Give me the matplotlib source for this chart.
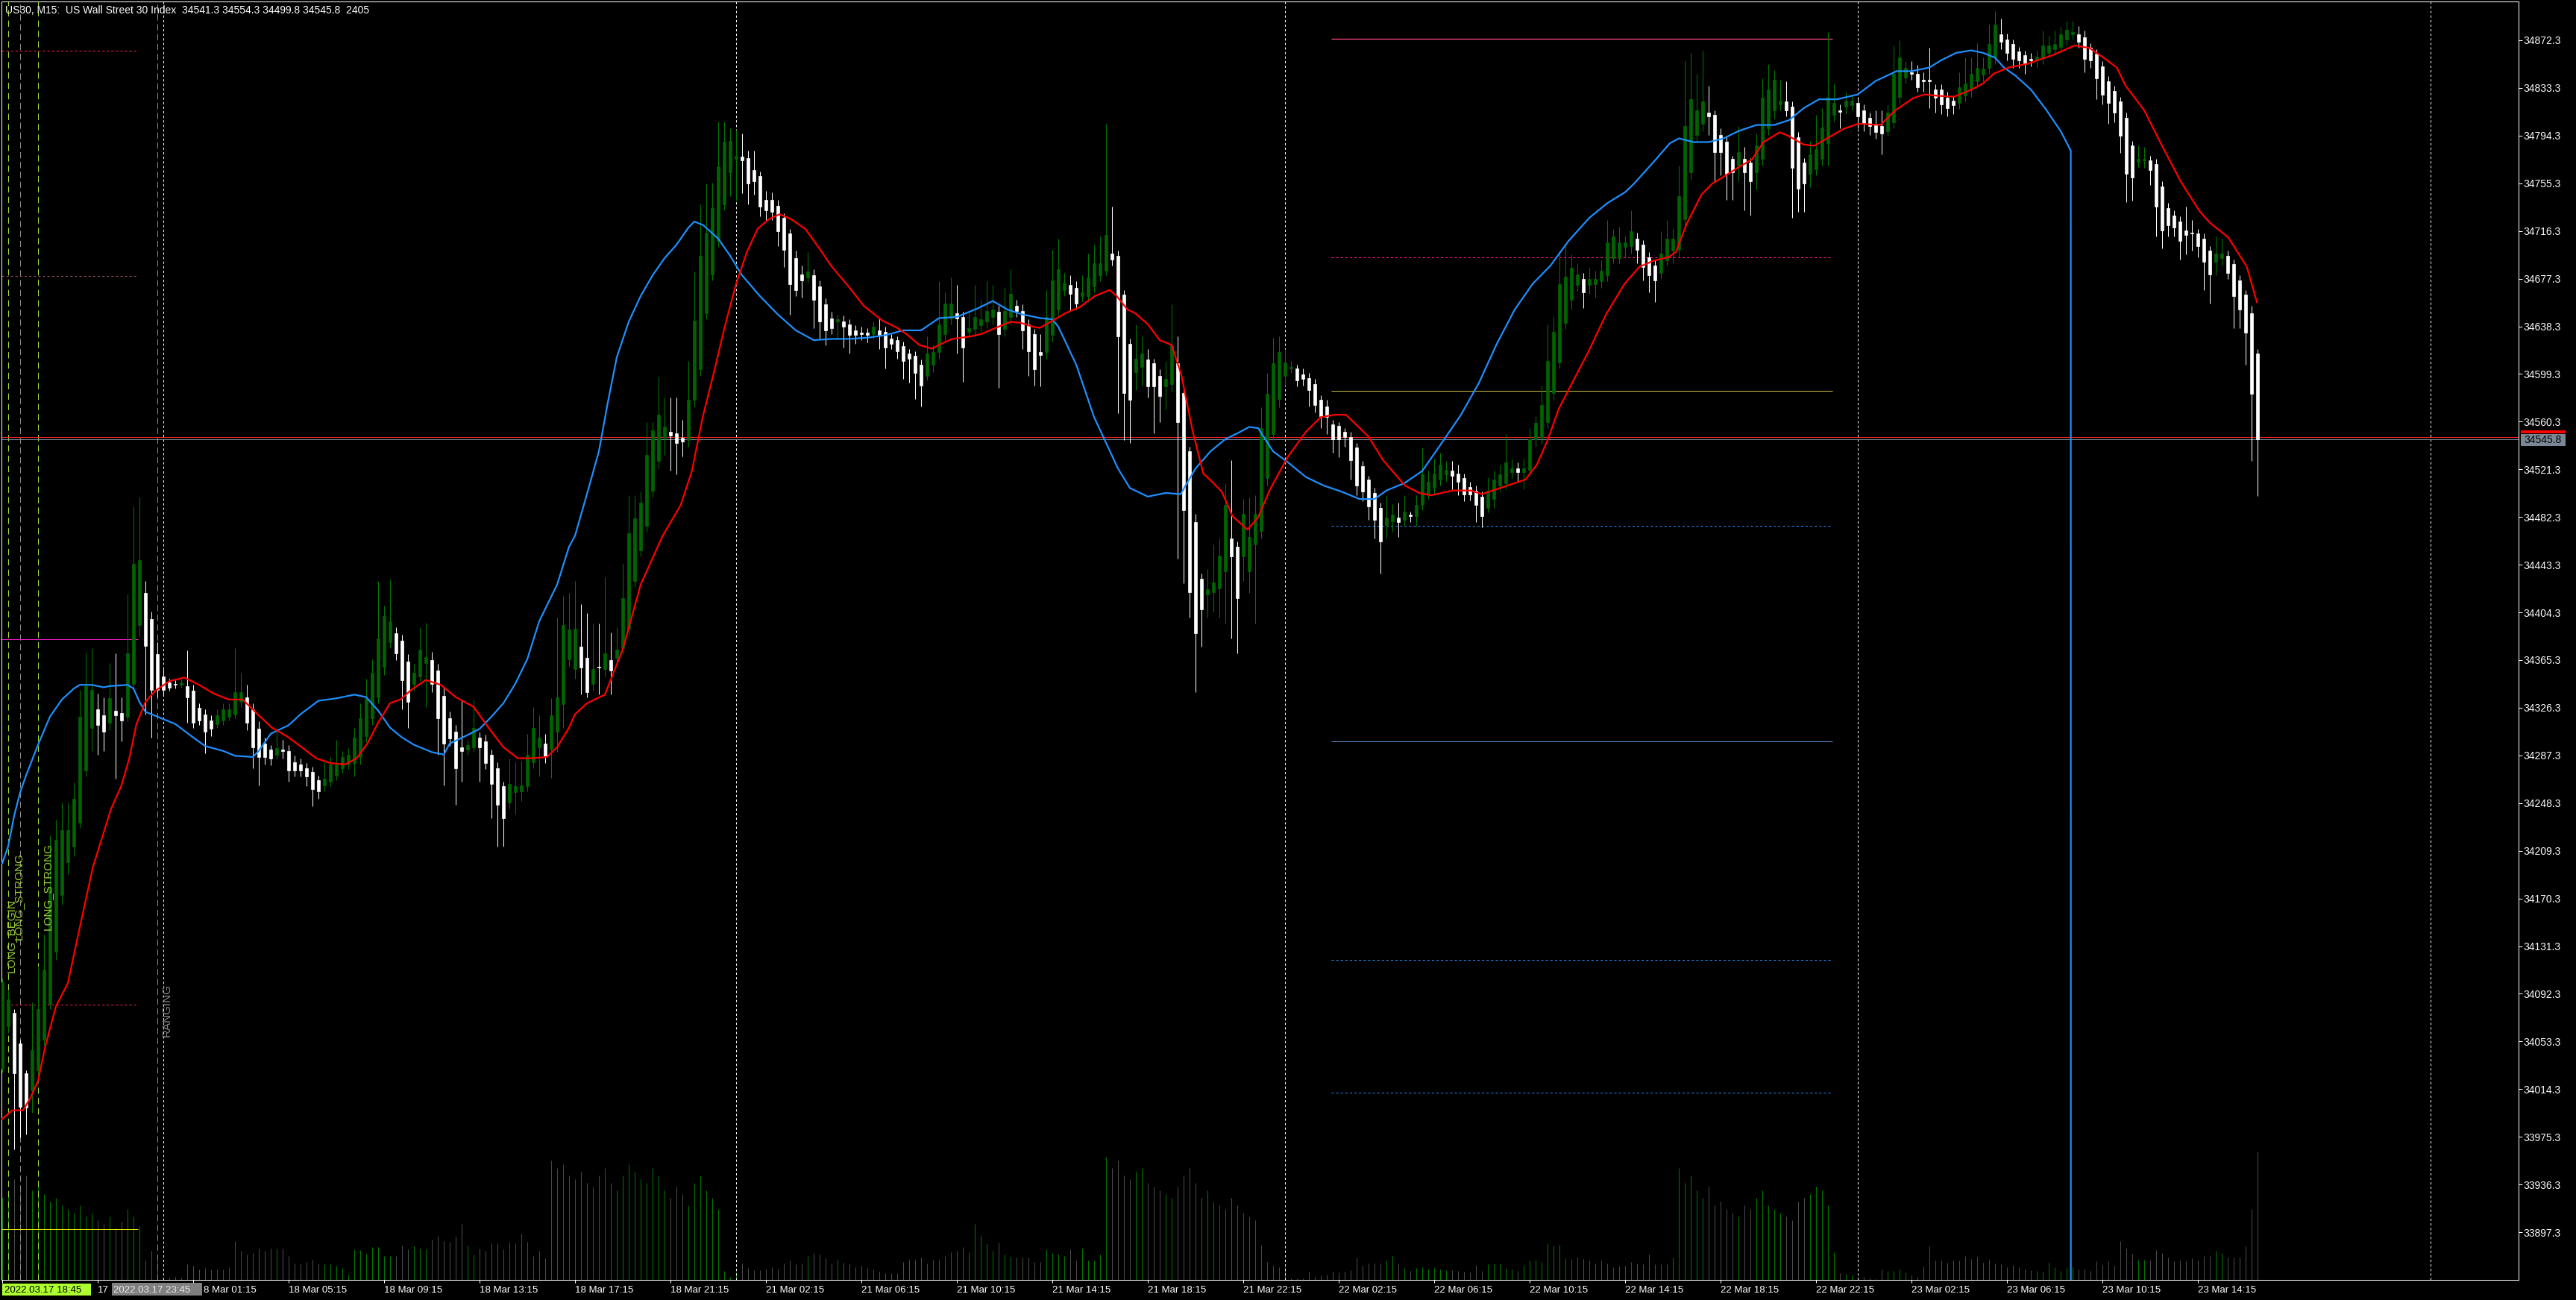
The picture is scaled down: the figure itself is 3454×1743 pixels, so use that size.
import numpy as np
import matplotlib
matplotlib.use('Agg')
import matplotlib.pyplot as plt
from matplotlib.patches import Rectangle

plt.rcParams['font.family'] = ['Liberation Sans', 'DejaVu Sans']
plt.rcParams['lines.scale_dashes'] = False

# US30 M15 candles, bar 0 = 2022.03.17 17:15
opens = [
    34031, 34066, 34077, 34052, 34027, 34013, 34030, 34055, 34084, 34127,
    34173, 34200, 34213, 34232, 34275, 34310, 34325, 34320, 34314, 34324,
    34322, 34319, 34346, 34394, 34420, 34399, 34370, 34352, 34347, 34346,
    34345, 34344, 34340, 34326, 34321, 34316, 34313, 34316, 34319, 34321,
    34331, 34335, 34325, 34309, 34297, 34292, 34288, 34292, 34291, 34282,
    34280, 34277, 34274, 34267, 34263, 34266, 34271, 34277, 34280, 34281,
    34286, 34303, 34318, 34335, 34360, 34380, 34387, 34381, 34364, 34346,
    34352, 34363, 34365, 34357, 34336, 34318, 34307, 34294, 34292, 34294,
    34302, 34299, 34288, 34277, 34262, 34249, 34257, 34258, 34262, 34282,
    34294, 34297, 34292, 34307, 34329, 34366, 34358, 34376, 34367, 34346,
    34360, 34358, 34365, 34367, 34375, 34391, 34430, 34455, 34475, 34504,
    34528, 34547, 34552, 34551, 34547, 34545, 34578, 34603, 34649, 34681,
    34708, 34738, 34764, 34775, 34777, 34776, 34766, 34761, 34742, 34742,
    34737, 34727, 34714, 34694, 34681, 34678, 34680, 34671, 34656, 34645,
    34642, 34642, 34640, 34635, 34633, 34633, 34632, 34635, 34634, 34628,
    34627, 34622, 34616, 34614, 34607, 34598, 34607, 34617, 34632, 34645,
    34649, 34646, 34634, 34636, 34639, 34642, 34646, 34650, 34636, 34646,
    34655, 34651, 34640, 34632, 34617, 34617, 34631, 34652, 34668, 34672,
    34670, 34663, 34663, 34671, 34680, 34684, 34698, 34696, 34664, 34624,
    34601, 34605, 34611, 34608, 34598, 34589, 34591, 34608, 34584, 34536,
    34478, 34432, 34419, 34421, 34424, 34438, 34465, 34458, 34450, 34438,
    34460, 34471, 34514, 34550, 34579, 34598, 34604, 34604, 34599, 34596,
    34591, 34578, 34573, 34558, 34557, 34552, 34548, 34539, 34524, 34513,
    34502, 34490, 34476, 34479, 34482, 34480, 34484, 34483, 34492, 34501,
    34506, 34513, 34517, 34520, 34518, 34514, 34507, 34504, 34499, 34490,
    34497, 34508, 34510, 34519, 34522, 34519, 34521, 34546, 34547, 34560,
    34584, 34609, 34641, 34660, 34672, 34677, 34672, 34673, 34675, 34680,
    34694, 34694, 34703, 34704, 34710, 34705, 34695, 34688, 34682, 34692,
    34700, 34701, 34726, 34764, 34795, 34804, 34813, 34811, 34795, 34789,
    34775, 34770, 34775, 34772, 34764, 34775, 34800, 34815, 34820, 34822,
    34818, 34793, 34772, 34763, 34767, 34775, 34788, 34811, 34815, 34818,
    34819, 34821, 34815, 34809, 34804, 34802, 34798, 34805, 34826, 34842,
    34846, 34845, 34840, 34840, 34832, 34832, 34825, 34823, 34821, 34827,
    34832, 34839, 34844, 34850, 34858, 34877, 34873, 34869, 34863, 34860,
    34857, 34856, 34858, 34862, 34865, 34867, 34873, 34877, 34877, 34875,
    34866, 34861, 34851, 34839, 34831, 34822, 34809, 34786, 34773, 34774,
    34774, 34771, 34753, 34735, 34729, 34724, 34717, 34715, 34714, 34710,
    34700, 34691, 34694, 34696, 34689, 34676, 34664, 34649, 34616,
]
highs = [
    34105, 34095, 34080, 34055, 34030, 34085, 34115, 34141, 34222, 34235,
    34249, 34249, 34265, 34341, 34371, 34375, 34338, 34335, 34363, 34371,
    34335, 34419, 34491, 34498, 34430, 34405, 34380, 34358, 34350, 34349,
    34350, 34373, 34345, 34330, 34325, 34320, 34325, 34330, 34330, 34375,
    34355, 34345, 34330, 34315, 34302, 34296, 34310, 34300, 34296, 34287,
    34285, 34281, 34278, 34271, 34282, 34286, 34300, 34291, 34293, 34310,
    34330, 34350, 34366, 34430, 34410, 34431, 34392, 34386, 34370, 34362,
    34392, 34396, 34372, 34362, 34342, 34323, 34312, 34333, 34300, 34333,
    34306, 34304, 34292, 34282, 34266, 34285, 34282, 34283, 34305, 34327,
    34320, 34305, 34334, 34400, 34418, 34420, 34430, 34411, 34404, 34395,
    34395, 34433, 34388, 34392, 34444, 34500, 34500, 34503, 34560, 34560,
    34597, 34580, 34580, 34580, 34562, 34610, 34683, 34738, 34755, 34756,
    34806, 34806, 34800, 34799, 34796, 34782, 34782, 34765, 34749, 34748,
    34742, 34731, 34718, 34700, 34688, 34699, 34685, 34676, 34661, 34650,
    34648, 34647, 34644, 34639, 34638, 34637, 34642, 34645, 34638, 34632,
    34630, 34626, 34620, 34618, 34611, 34630, 34623, 34675, 34666, 34678,
    34672, 34650, 34650, 34672, 34660, 34675, 34672, 34655, 34670, 34685,
    34660, 34656, 34644, 34636, 34632, 34668, 34701, 34710, 34682, 34680,
    34675, 34680, 34698, 34705, 34712, 34804, 34736, 34700, 34668, 34628,
    34640, 34630, 34620, 34612, 34603, 34610, 34656, 34630, 34590, 34540,
    34485, 34436, 34440, 34460, 34465, 34510, 34529, 34462, 34497, 34498,
    34500, 34572, 34600, 34629, 34630, 34620, 34610, 34607, 34604, 34600,
    34595, 34582, 34578, 34562, 34560, 34555, 34552, 34543, 34528, 34516,
    34506, 34494, 34500, 34493, 34494, 34500, 34487, 34500, 34539, 34520,
    34530, 34535, 34528, 34528, 34525, 34518, 34511, 34508, 34503, 34515,
    34520, 34525, 34550, 34530, 34527, 34530, 34555, 34565, 34590, 34640,
    34646, 34700, 34706, 34697, 34690, 34682, 34686, 34684, 34692, 34725,
    34718, 34720, 34712, 34733, 34715, 34709, 34699, 34692, 34716, 34725,
    34718, 34770, 34856, 34862, 34845, 34864, 34835, 34815, 34800, 34793,
    34778, 34802, 34785, 34776, 34796, 34841, 34853, 34848, 34840, 34839,
    34822, 34797, 34776, 34790, 34811, 34817, 34879, 34837, 34820, 34830,
    34828, 34826, 34820, 34813, 34815, 34815, 34820, 34868, 34872, 34855,
    34855, 34852, 34846, 34866, 34836, 34836, 34830, 34827, 34846, 34858,
    34858, 34870, 34858, 34885, 34896, 34890, 34878, 34873, 34867, 34864,
    34862, 34864, 34880, 34876, 34880, 34883, 34888, 34888, 34884, 34880,
    34870, 34865, 34855, 34843, 34835, 34826, 34813, 34790, 34786, 34785,
    34778, 34775, 34757, 34739, 34733, 34728, 34736, 34725, 34718, 34714,
    34704, 34712, 34710, 34700, 34693, 34680, 34668, 34655, 34620,
]
lows = [
    34028, 34060, 33965, 33975, 33977, 33995, 34020, 34050, 34080, 34120,
    34165, 34190, 34205, 34228, 34270, 34291, 34288, 34291, 34308, 34268,
    34299, 34315, 34340, 34385, 34321, 34302, 34335, 34336, 34340, 34342,
    34343, 34314, 34310, 34312, 34289, 34303, 34310, 34312, 34316, 34318,
    34327, 34308, 34277, 34263, 34280, 34279, 34284, 34285, 34266, 34270,
    34270, 34262, 34246, 34252, 34258, 34262, 34267, 34273, 34276, 34270,
    34280, 34298, 34312, 34330, 34353, 34375, 34365, 34325, 34310, 34340,
    34348, 34327, 34339, 34288, 34263, 34295, 34247, 34266, 34288, 34290,
    34266, 34276, 34236, 34213, 34213, 34244, 34239, 34250, 34258, 34277,
    34270, 34281, 34269, 34290, 34310, 34360, 34350, 34337, 34335, 34340,
    34337, 34352, 34337, 34362, 34370, 34385, 34425, 34450, 34470, 34498,
    34522, 34533, 34520, 34517, 34532, 34540, 34573, 34598, 34644, 34676,
    34703, 34733, 34745, 34741, 34747, 34738, 34746, 34728, 34725, 34725,
    34704, 34687, 34648, 34663, 34662, 34674, 34637, 34628, 34623, 34632,
    34628, 34621, 34616, 34624, 34627, 34625, 34628, 34620, 34604, 34620,
    34612, 34595, 34592, 34579, 34573, 34594, 34601, 34612, 34626, 34640,
    34616, 34593, 34630, 34630, 34634, 34637, 34640, 34588, 34630, 34640,
    34646, 34620, 34598, 34590, 34589, 34612, 34626, 34646, 34663, 34651,
    34652, 34659, 34658, 34666, 34675, 34680, 34688, 34567, 34545, 34543,
    34586, 34590, 34580, 34551, 34560, 34570, 34585, 34448, 34428, 34400,
    34339, 34376, 34400, 34405, 34400, 34395, 34383, 34371, 34430, 34420,
    34395, 34465, 34508, 34545, 34572, 34590, 34600, 34589, 34590, 34573,
    34568, 34555, 34550, 34535, 34531, 34540, 34513, 34500, 34495, 34480,
    34465, 34436, 34465, 34470, 34466, 34475, 34478, 34475, 34488, 34497,
    34500, 34508, 34512, 34505, 34500, 34495, 34496, 34478, 34474, 34486,
    34490, 34503, 34505, 34514, 34512, 34505, 34517, 34540, 34542, 34555,
    34578, 34604, 34636, 34652, 34667, 34653, 34665, 34662, 34670, 34675,
    34690, 34690, 34695, 34698, 34690, 34676, 34666, 34658, 34677, 34688,
    34690, 34695, 34720, 34758, 34790, 34798, 34795, 34756, 34762, 34742,
    34742, 34757, 34733, 34729, 34750, 34770, 34795, 34808, 34815, 34810,
    34727, 34732, 34732, 34752, 34762, 34770, 34770, 34806, 34800, 34812,
    34815, 34800, 34798, 34795, 34792, 34779, 34794, 34800, 34820, 34837,
    34840, 34830, 34830, 34817, 34813, 34812, 34810, 34812, 34816, 34822,
    34826, 34835, 34839, 34845, 34853, 34865, 34856, 34850, 34850, 34845,
    34851, 34850, 34853, 34858, 34860, 34862, 34868, 34873, 34866, 34846,
    34850, 34824, 34820, 34804, 34805, 34780, 34740, 34741, 34768, 34768,
    34754, 34712, 34702, 34712, 34712, 34693, 34697, 34700, 34695, 34668,
    34657, 34680, 34688, 34677, 34637, 34637, 34607, 34528, 34499.8,
]
closes = [
    34102, 34088, 34027, 34000, 33999, 34046, 34080, 34112, 34180, 34218,
    34226, 34226, 34252, 34319, 34344, 34341, 34312, 34307, 34334, 34320,
    34316, 34371, 34444, 34447, 34377, 34341, 34341, 34341, 34343, 34345,
    34347, 34335, 34314, 34316, 34307, 34309, 34320, 34325, 34325, 34339,
    34339, 34314, 34294, 34286, 34286, 34285, 34293, 34291, 34275, 34275,
    34275, 34270, 34260, 34258, 34268, 34280, 34280, 34286, 34288, 34302,
    34318, 34334, 34355, 34383, 34401, 34397, 34371, 34349, 34331, 34355,
    34374, 34368, 34346, 34318, 34297, 34301, 34277, 34291, 34296, 34310,
    34294, 34281, 34264, 34247, 34236, 34264, 34262, 34263, 34288, 34310,
    34302, 34286, 34320, 34335, 34394, 34390, 34391, 34359, 34339, 34358,
    34359, 34371, 34357, 34374, 34416, 34469, 34481, 34494, 34533, 34553,
    34566, 34556, 34549, 34543, 34544, 34578, 34643, 34696, 34715, 34735,
    34769, 34789, 34790, 34778, 34774, 34755, 34757, 34736, 34733, 34732,
    34716, 34701, 34673, 34668, 34676, 34683, 34660, 34642, 34635, 34637,
    34644, 34638, 34631, 34631, 34632, 34631, 34638, 34631, 34621, 34624,
    34618, 34610, 34612, 34600, 34590, 34616, 34617, 34640, 34657, 34657,
    34645, 34621, 34637, 34646, 34644, 34651, 34652, 34632, 34651, 34665,
    34651, 34635, 34618, 34603, 34615, 34646, 34676, 34685, 34674, 34665,
    34657, 34666, 34678, 34690, 34690, 34713, 34693, 34630, 34584, 34578,
    34612, 34616, 34589, 34589, 34581, 34595, 34623, 34560, 34488, 34421,
    34387, 34407, 34423, 34429, 34451, 34492, 34450, 34416, 34485, 34466,
    34485, 34555, 34583, 34608, 34617, 34609, 34605, 34594, 34595, 34586,
    34574, 34565, 34564, 34546, 34546, 34548, 34529, 34508, 34503, 34491,
    34480, 34462, 34482, 34484, 34478, 34487, 34483, 34492, 34517, 34511,
    34518, 34525, 34521, 34516, 34511, 34501, 34501, 34492, 34483, 34504,
    34513, 34517, 34527, 34522, 34519, 34522, 34546, 34559, 34574, 34610,
    34634, 34673, 34679, 34686, 34681, 34666, 34677, 34677, 34684, 34707,
    34712, 34707, 34707, 34716, 34701, 34687, 34680, 34676, 34698, 34710,
    34710, 34745, 34802, 34824, 34815, 34822, 34810, 34781, 34781, 34763,
    34764, 34781, 34764, 34757, 34786, 34825, 34832, 34840, 34823, 34815,
    34768, 34751, 34755, 34779, 34783, 34801, 34826, 34821, 34814, 34823,
    34823, 34810, 34804, 34802, 34797, 34796, 34813, 34845, 34858, 34850,
    34845, 34834, 34839, 34839, 34825, 34820, 34817, 34819, 34834, 34837,
    34845, 34850, 34849, 34869, 34885, 34871, 34862, 34857, 34856, 34853,
    34856, 34859, 34868, 34868, 34869, 34877, 34881, 34879, 34871, 34857,
    34856, 34841, 34828, 34821, 34813, 34794, 34763, 34760, 34775, 34775,
    34766, 34736, 34717, 34721, 34719, 34708, 34713, 34714, 34704, 34691,
    34681, 34698, 34698, 34682, 34663, 34652, 34633, 34583, 34545.8,
]
# tick volumes
volumes = [
    1540, 1680, 1890, 1750, 1960, 1680, 1820, 1610, 1470, 1540,
    1400, 1330, 1260, 1400, 1190, 1260, 1120, 1050, 1190, 980,
    1092, 1330, 1190, 1008, 364, 546, 420, 42, 42, 56,
    42, 294, 266, 196, 224, 196, 196, 196, 238, 728,
    546, 476, 504, 588, 546, 588, 588, 588, 448, 308,
    308, 336, 378, 308, 294, 294, 266, 224, 98, 574,
    560, 490, 616, 616, 448, 448, 448, 644, 574, 644,
    588, 574, 756, 826, 728, 714, 812, 1050, 644, 476,
    588, 546, 686, 686, 574, 714, 686, 868, 714, 448,
    546, 406, 2240, 2100, 2170, 1960, 1890, 2030, 1820, 1750,
    1960, 2100, 1820, 1680, 1960, 2170, 2030, 1890, 1820, 2100,
    1960, 1680, 1540, 1750, 1610, 1400, 1820, 1960, 1680, 1540,
    1330, 168, 56, 140, 308, 224, 182, 182, 196, 238,
    196, 308, 364, 294, 308, 448, 504, 476, 406, 308,
    378, 322, 308, 238, 266, 224, 196, 154, 126, 126,
    126, 336, 378, 378, 420, 308, 378, 378, 448, 518,
    546, 616, 518, 1050, 826, 686, 546, 700, 476, 434,
    420, 420, 420, 336, 336, 574, 504, 490, 448, 574,
    364, 588, 364, 364, 476, 2310, 2100, 2240, 1960, 1890,
    2030, 2100, 1820, 1750, 1680, 1610, 1540, 1750, 1960, 2100,
    1820, 1540, 1680, 1470, 1400, 1330, 1540, 1400, 1260, 1190,
    1120, 658, 336, 266, 238, 238, 28, 28, 28, 154,
    56, 84, 98, 154, 140, 154, 182, 420, 266, 308,
    308, 308, 364, 448, 308, 224, 168, 224, 238, 196,
    224, 196, 182, 182, 168, 154, 140, 280, 168, 294,
    308, 308, 224, 196, 168, 266, 364, 378, 336, 686,
    644, 658, 406, 392, 420, 392, 364, 308, 364, 308,
    238, 252, 266, 336, 308, 294, 476, 294, 294, 294,
    420, 2100, 1820, 1960, 1680, 1540, 1750, 1400, 1470, 1330,
    1260, 1190, 1400, 1330, 1540, 1680, 1400, 1330, 1260, 1190,
    1120, 1470, 1540, 1610, 1750, 1680, 1400, 518, 126, 112,
    84, 56, 56, 28, 14, 196, 168, 168, 196, 140,
    84, 56, 252, 630, 364, 364, 322, 364, 364, 448,
    392, 434, 322, 378, 308, 294, 238, 280, 238, 196,
    182, 168, 154, 322, 238, 168, 238, 238, 196, 196,
    168, 350, 280, 350, 266, 728, 588, 490, 378, 378,
    364, 560, 504, 420, 350, 364, 350, 406, 364, 448,
    448, 546, 504, 420, 420, 420, 630, 1330, 2405,
]

# blue and red indicator lines (bar index, price)
blue_bars = [0, 1, 2, 3, 4, 6, 8, 10, 12, 13, 15, 17, 18, 21, 22, 23, 24, 26, 29, 32,
             34, 37, 39, 42, 43, 45, 48, 50, 53, 56, 59, 61, 63, 65, 67, 69, 72, 74, 75, 78,
             80, 82, 84, 86, 88, 90, 93, 95, 96, 98, 100, 101.5, 103, 105, 107, 109, 111, 113, 115, 116,
             117.5, 120, 122, 124, 127, 130, 133, 136, 139, 142, 145, 148, 151, 154, 157, 160, 163.5, 166, 168.5, 171,
             174, 176, 177, 180, 183, 185, 187, 189, 192, 195, 197.5, 200, 202.5, 205, 207.5, 209, 210.5, 213, 215.5, 218.5,
             221.5, 224.5, 227.5, 230, 232, 235, 238, 241, 244.5, 247.5, 250.5, 253.5, 256.5, 259.5, 262.5, 266, 269, 272, 273.5, 277,
             279.5, 281, 283.5, 286, 288.5, 291, 294, 297, 299.5, 302, 304.5, 307.5, 311, 314, 317.5, 320, 323, 325, 327.5, 330,
             332, 334, 335.5, 337.5, 340, 342.5, 345, 346.7, 347]
blue_vals = [34199, 34213, 34238, 34257, 34271, 34296, 34319, 34333, 34342, 34345, 34345, 34343, 34344, 34345, 34342, 34331, 34323, 34319, 34313, 34302,
             34295, 34291, 34287, 34286, 34291, 34305, 34312, 34321, 34332, 34334, 34337, 34335, 34324, 34310, 34302, 34296, 34290, 34288, 34297, 34304,
             34309, 34319, 34330, 34346, 34366, 34397, 34427, 34458, 34467, 34501, 34536, 34576, 34613, 34642, 34663, 34680, 34694, 34705, 34719, 34724,
             34721, 34710, 34696, 34680, 34663, 34648, 34635, 34627, 34628, 34628, 34629, 34631, 34635, 34635, 34645, 34646, 34653, 34659, 34652, 34648,
             34645, 34644, 34638, 34607, 34564, 34543, 34522, 34506, 34499, 34502, 34501, 34522, 34536, 34546, 34552, 34556, 34555, 34536, 34527, 34515,
             34508, 34503, 34497, 34497, 34504, 34510, 34520, 34541, 34566, 34592, 34624, 34652, 34673, 34688, 34708, 34727, 34739, 34748, 34755, 34774,
             34788, 34792, 34789, 34789, 34792, 34798, 34803, 34803, 34807, 34817, 34824, 34824, 34828, 34839, 34847, 34847, 34850, 34856, 34862, 34864,
             34862, 34858, 34850, 34843, 34832, 34816, 34798, 34782, 0]
red_bars = [0, 1.7, 3.5, 4.7, 6, 7.2, 9, 11, 12.7, 15.2, 18.2, 20, 21.3, 22.5, 24, 25.6, 28, 30.5, 33, 35.4,
            38, 40.3, 42.8, 45.2, 47.7, 50.2, 52.6, 55, 57.5, 59.4, 61.2, 63, 65, 66.7, 68.6, 71, 73.5, 76, 79, 81.5,
            84, 86.4, 88.8, 91.3, 93, 95, 96, 98, 101, 104, 107, 110.7, 113.7, 115.6, 117.4, 119.3, 121.1, 123, 124.8, 126.6,
            128.5, 130.3, 132.2, 134.6, 137.1, 138.9, 142, 144.4, 147.5, 150, 151.8, 153.7, 155.8, 157.4, 159.2, 162.3, 164.1, 166.5, 169, 170.8,
            172.7, 173.9, 175.7, 178.2, 180.6, 183.1, 185.6, 186.8, 188.6, 189.9, 192, 194, 196, 197.6, 199.5, 201.3, 202.8, 204.4, 206.2, 208.7,
            210.5, 212.4, 215.4, 218.5, 221, 223.4, 225.2, 229, 231.4, 235.1, 237.5, 239.4, 243.1, 246.1, 248, 249.8, 252.9, 255.3, 257.2, 259,
            260.9, 262.7, 265.8, 268.8, 271.9, 274.4, 276.8, 279.3, 280.5, 282.3, 284.8, 286.6, 288.3, 290.9, 293.3, 295.2, 297.9, 299.4, 301.9, 303.7,
            306.2, 308.7, 311.1, 314.8, 317.3, 320.3, 322.2, 324, 327.1, 330.1, 332, 333.8, 336.3, 339.4, 341.2, 343.6, 345.5, 347.3, 349.8, 352.2,
            354.4, 355.9, 359, 362.1, 365.1, 368.2, 370, 373.1, 376.2, 377.9]
red_vals = [33990, 33997, 33997, 34007, 34021, 34049, 34082, 34101, 34140, 34196, 34243, 34263, 34285, 34313, 34331, 34340, 34348, 34351, 34345, 34338,
            34333, 34333, 34321, 34310, 34303, 34294, 34285, 34281, 34280, 34285, 34297, 34314, 34330, 34333, 34341, 34349, 34345, 34335, 34327, 34310,
            34294, 34285, 34285, 34286, 34294, 34310, 34321, 34330, 34337, 34374, 34427, 34467, 34492, 34520, 34564, 34601, 34638, 34673, 34699, 34718,
            34726, 34730, 34726, 34718, 34701, 34688, 34670, 34655, 34643, 34637, 34631, 34623, 34620, 34624, 34628, 34630, 34632, 34637, 34642, 34641,
            34638, 34637, 34642, 34649, 34654, 34663, 34668, 34663, 34652, 34649, 34640, 34627, 34623, 34599, 34553, 34518, 34511, 34503, 34483, 34472,
            34482, 34504, 34531, 34552, 34564, 34566, 34566, 34548, 34529, 34508, 34502, 34500, 34504, 34504, 34501, 34504, 34509, 34513, 34525, 34545,
            34571, 34588, 34617, 34648, 34673, 34687, 34692, 34695, 34699, 34722, 34746, 34755, 34760, 34768, 34775, 34789, 34797, 34794, 34787, 34786,
            34793, 34800, 34804, 34803, 34815, 34825, 34828, 34827, 34826, 34832, 34837, 34845, 34850, 34853, 34856, 34860, 34864, 34868, 34866, 34858,
            34850, 34835, 34815, 34785, 34757, 34733, 34723, 34711, 34687, 34658]

# horizontal levels
left_levels = [34863.8, 34679.5, 34382.4, 34083.4, 33899.8]
right_levels = [34873.5, 34695.0, 34585.5, 34475.4, 34298.8, 34120.0, 34011.4]
bid, ask = 34545.8, 34547.8

price_ticks = [34872.3, 34833.3, 34794.3, 34755.3, 34716.3, 34677.3, 34638.3, 34599.3, 34560.3,
               34521.3, 34482.3, 34443.3, 34404.3, 34365.3, 34326.3, 34287.3, 34248.3, 34209.3,
               34170.3, 34131.3, 34092.3, 34053.3, 34014.3, 33975.3, 33936.3, 33897.3]
time_tick_bars = [0, 16, 32, 48, 64, 80, 96, 112, 128, 144, 160, 176, 192, 208, 224, 240,
                  256, 272, 288, 304, 320, 336, 352, 368]
# first labels are mostly hidden by the marker boxes, only their visible part is kept
time_labels = ['', '17', '', '18 Mar 05:15', '18 Mar 09:15',
               '18 Mar 13:15', '18 Mar 17:15', '18 Mar 21:15', '21 Mar 02:15', '21 Mar 06:15',
               '21 Mar 10:15', '21 Mar 14:15', '21 Mar 18:15', '21 Mar 22:15', '22 Mar 02:15',
               '22 Mar 06:15', '22 Mar 10:15', '22 Mar 14:15', '22 Mar 18:15', '22 Mar 22:15',
               '23 Mar 02:15', '23 Mar 06:15', '23 Mar 10:15', '23 Mar 14:15']
day_breaks = [27, 123, 215, 311, 407]

n = len(opens)
assert len(highs) == n and len(lows) == n and len(closes) == n and len(volumes) == n
assert len(blue_bars) == len(blue_vals) and len(red_bars) == len(red_vals)

# ---- figure in pixel terms ----
W, H = 3455, 1743
PX = 0.72  # points per pixel at dpi 100
fig = plt.figure(figsize=(W / 100, H / 100), dpi=100, facecolor='black')
L, R, T, B = 2, 3377, 2, 1716


def fx(px):
    return px / W


def fy(py):
    return 1 - py / H


rect = [fx(L), fy(B), (R - L) / W, (B - T) / H]
axv = fig.add_axes(rect)
ax = fig.add_axes(rect)
ax.set_zorder(axv.get_zorder() + 1)
ax.patch.set_visible(False)
axv.set_facecolor('black')

xlim = (-0.125, 421.75)
ax.set_xlim(*xlim)
axv.set_xlim(*xlim)
ax.set_ylim(33858.3, 34904.0)
axv.set_ylim(0, (B - T) * 14)
axv.axis('off')

x = np.arange(n)
o = np.array(opens, float)
h = np.array(highs, float)
lo = np.array(lows, float)
c = np.array(closes, float)
v = np.array(volumes, float)
bull = c >= o

# volumes coloured by candle direction
axv.vlines(x[bull], 0, v[bull], colors='#007800', lw=PX)
axv.vlines(x[~bull], 0, v[~bull], colors='#4c4c4c', lw=PX)

# vertical markers
for b in day_breaks:
    ax.axvline(b, color='white', lw=PX, ls=(0, (2.2, 2.2)), zorder=1)
for b in [3, 26]:
    ax.axvline(b, color='#8c8c8c', lw=PX, ls=(0, (6, 3.5)), zorder=1)
for b in [1, 6]:
    ax.axvline(b, color='#a6e22e', lw=PX, ls=(0, (6, 4)), zorder=1)

# levels
l0, l1 = -0.125, 22.75
left_styles = [('#ff1a6e', 'dot'), ('#9a5070', 'dot'), ('#e81cc0', 'solid'),
               ('#ff1a6e', 'dot'), ('#e8e800', 'solid')]
for p, (col, st) in zip(left_levels, left_styles):
    ls = (0, (2.2, 2.2)) if st == 'dot' else '-'
    ax.hlines(p, l0, l1, colors=col, lw=PX, linestyles=[ls], zorder=2)
r0, r1 = 222.75, 306.75
right_styles = [('#f0407a', 'solid', 1.4), ('#ff1a8c', 'dot', 1), ('#d0c040', 'solid', 1),
                ('#1e90ff', 'dot', 1), ('#5b8fd0', 'solid', 1), ('#1e90ff', 'dot', 1),
                ('#1e90ff', 'dot', 1)]
for p, (col, st, w) in zip(right_levels, right_styles):
    ls = (0, (2.2, 2.2)) if st == 'dot' else '-'
    ax.hlines(p, r0, r1, colors=col, lw=PX * w, linestyles=[ls], zorder=2)

# bid / ask lines
ax.axhline(ask, color='#ff2020', lw=PX, zorder=2)
ax.axhline(bid, color='#8090a0', lw=PX, zorder=2)

# candles
ax.vlines(x[bull], lo[bull], h[bull], colors='#007800', lw=PX, zorder=3)
ax.vlines(x[~bull], lo[~bull], h[~bull], colors='white', lw=PX, zorder=3)
ax.bar(x[bull], (c - o)[bull], bottom=o[bull], width=0.62, color='#006400',
       edgecolor='#006400', lw=0.5, zorder=4)
ax.bar(x[~bull], (o - c)[~bull], bottom=c[~bull], width=0.62, color='white',
       edgecolor='white', lw=0.5, zorder=4)

# indicator lines
ax.plot(blue_bars, blue_vals, color='#1e90ff', lw=2.2 * PX, zorder=5)
ax.plot(red_bars, red_vals, color='#ff0000', lw=2.2 * PX, zorder=5)

# signal texts
ax.text(1.5, 34139.6, 'LONG_BEGIN', rotation=90, color='#9acd32', fontsize=11,
        ha='center', va='center', zorder=6)
ax.text(2.7, 34172, 'LONG_STRONG', rotation=90, color='#9acd32', fontsize=11,
        ha='center', va='center', zorder=6)
ax.text(7.6, 34180, 'LONG_STRONG', rotation=90, color='#9acd32', fontsize=11,
        ha='center', va='center', zorder=6)
ax.text(27.6, 34078.6, 'RANGING', rotation=90, color='#8a8a8a', fontsize=11,
        ha='center', va='center', zorder=6)

# frame
for s in ax.spines.values():
    s.set_color('white')
    s.set_linewidth(PX)

# axes ticks
ax.yaxis.tick_right()
ax.set_yticks(price_ticks)
ax.set_yticklabels([f'{p:.1f}' for p in price_ticks])
ax.tick_params(axis='y', colors='white', labelsize=10, length=5 * PX, width=PX, pad=1)
ax.set_xticks(time_tick_bars)
ax.set_xticklabels(time_labels, ha='left')
ax.tick_params(axis='x', colors='white', labelsize=9.5, length=4 * PX, width=PX, pad=3)

# header
fig.text(fx(7), fy(18), 'US30, M15:  US Wall Street 30 Index  34541.3 34554.3 34499.8 34545.8  2405',
         color='white', fontsize=10, va='baseline')

# time boxes at the bottom
fig.add_artist(Rectangle((fx(3), fy(1737)), 119 / W, 16 / H, transform=fig.transFigure,
                         facecolor='#adff2f', edgecolor='none', zorder=5))
fig.text(fx(6), fy(1733), '2022.03.17 18:45', color='black', fontsize=9.5, zorder=6)
fig.add_artist(Rectangle((fx(150), fy(1737)), 121 / W, 17 / H, transform=fig.transFigure,
                         facecolor='#808080', edgecolor='none', zorder=5))
fig.text(fx(152), fy(1733), '2022.03.17 23:45', color='#e8e8e8', fontsize=9.5, zorder=6)
fig.text(fx(273), fy(1733), '8 Mar 01:15', color='white', fontsize=9.5, zorder=6)

# current price tag
fig.add_artist(Rectangle((fx(3380), fy(581)), 60 / W, 3.5 / H, transform=fig.transFigure,
                         facecolor='#ff0000', edgecolor='none', zorder=5))
fig.add_artist(Rectangle((fx(3380), fy(598)), 60 / W, 16.5 / H, transform=fig.transFigure,
                         facecolor='#7b8794', edgecolor='none', zorder=5))
fig.text(fx(3410), fy(590), f'{bid:.1f}', color='black', fontsize=10, ha='center',
         va='center', zorder=6)

fig.savefig('out.png', dpi=100, facecolor='black')
